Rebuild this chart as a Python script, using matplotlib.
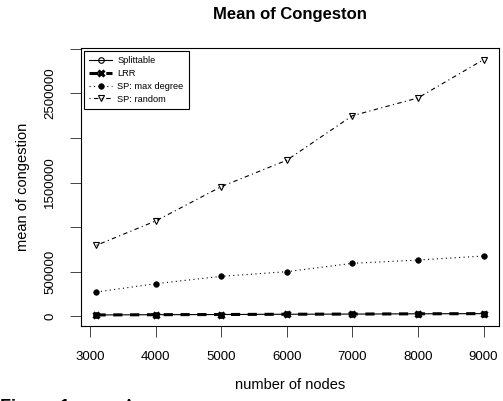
import numpy as np
import matplotlib
matplotlib.use('Agg')
import matplotlib.pyplot as plt

plt.rcParams['font.family'] = ['Liberation Sans', 'DejaVu Sans']

# number of nodes and mean congestion per method
nodes = [3100, 4000, 5000, 6000, 7000, 8000, 9000]
splittable = [12000, 15000, 17000, 20000, 22000, 25000, 27000]
lrr = [12000, 15000, 17000, 20000, 22000, 25000, 27000]
sp_maxdeg = [270000, 363000, 446000, 498000, 592000, 629000, 674000]
sp_random = [795000, 1067000, 1453000, 1750000, 2250000, 2450000, 2880000]

xticks = [3000, 4000, 5000, 6000, 7000, 8000, 9000]
yticks = [0, 500000, 1000000, 1500000, 2000000, 2500000, 3000000]
ylabels = ['0', '500000', '', '1500000', '', '2500000', '']

fig = plt.figure(figsize=(5.03, 4.01), dpi=100)
# box: x 81..499, y 48..326 (pixels)
ax = fig.add_axes([81 / 503, 1 - 326 / 401, 418 / 503, 278 / 401])

ax.plot(nodes, splittable, color='black', lw=0.8, ls='-', marker='o',
        mfc='none', ms=4, mew=0.8, label='Splittable')
ax.plot(nodes, lrr, color='black', lw=2.2, ls=(0, (3, 2.5)), marker='x',
        ms=5, mew=2.2, label='LRR')
ax.plot(nodes, sp_maxdeg, color='black', lw=0.8, ls=(0, (1, 3)), marker='o',
        ms=4, mew=0.5, label='SP: max degree')
ax.plot(nodes, sp_random, color='black', lw=0.8, ls=(0, (1, 3, 4, 3)),
        marker='v', mfc='none', ms=5, mew=0.8, label='SP: random')

ax.set_xlim(2864, 9236)
ax.set_ylim(-112000, 3011000)
ax.set_xticks(xticks)
ax.set_xticklabels([str(v) for v in xticks], fontsize=9.5)
ax.set_yticks(yticks)
ax.set_yticklabels(ylabels, fontsize=9.5, rotation=90, va='center')
ax.tick_params(axis='both', length=8, width=0.7, color='#444444')
ax.tick_params(axis='y', pad=10)
ax.tick_params(axis='x', pad=10)
for s in ax.spines.values():
    s.set_linewidth(0.8)

ax.set_xlabel('number of nodes', fontsize=10.5, labelpad=11)
ax.set_ylabel('mean of congestion', fontsize=10.5, labelpad=10)
fig.text(290 / 503, 1 - 14 / 401, 'Mean of Congeston', ha='center',
         va='center', fontsize=12, fontweight='bold')

leg = ax.legend(loc='upper left', fontsize=6.7, frameon=True, fancybox=False,
                edgecolor='black', framealpha=1, handlelength=2.4,
                handletextpad=0.6, borderaxespad=0.35, labelspacing=0.4,
                borderpad=0.55)
leg.get_frame().set_linewidth(0.8)

# cropped caption at the bottom edge
fig.text(0.0, -0.028, 'Figure 1:', fontsize=13, fontweight='bold', va='baseline')
fig.text(0.245, -0.028, 'A', fontsize=13, va='baseline')

fig.savefig('out.png', dpi=100)
